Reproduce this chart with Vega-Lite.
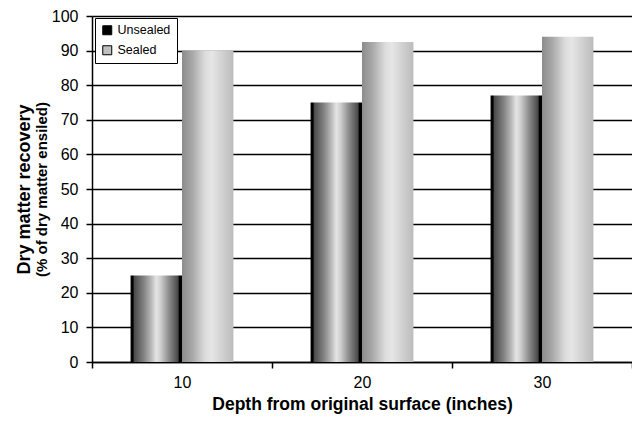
{
  "$schema": "https://vega.github.io/schema/vega-lite/v6.json",
  "width": 540,
  "height": 346,
  "autosize": {"type": "none"},
  "padding": {"left": 92, "top": 16, "right": 0, "bottom": 62},
  "background": "white",
  "config": {
    "view": {"stroke": null},
    "font": "Liberation Sans",
    "axis": {"labelFont": "Liberation Sans", "titleFont": "Liberation Sans", "labelColor": "black", "titleColor": "black", "domainColor": "black", "tickColor": "black"}
  },
  "data": {
    "values": [
      {"depth": "10", "series": "Unsealed", "recovery": 25},
      {"depth": "10", "series": "Sealed", "recovery": 90},
      {"depth": "20", "series": "Unsealed", "recovery": 75},
      {"depth": "20", "series": "Sealed", "recovery": 92.5},
      {"depth": "30", "series": "Unsealed", "recovery": 77},
      {"depth": "30", "series": "Sealed", "recovery": 94}
    ]
  },
  "encoding": {
    "x": {
      "field": "depth", "type": "ordinal",
      "scale": {"paddingInner": 0, "paddingOuter": 0},
      "axis": {
        "title": "Depth from original surface (inches)",
        "labelAngle": 0, "labelFontSize": 16, "labelPadding": 6,
        "tickBand": "extent", "tickSize": 6, "tickWidth": 1.5,
        "domainWidth": 1.5,
        "titleFontSize": 17.5, "titleFontWeight": "bold", "titlePadding": 5
      }
    },
    "xOffset": {
      "field": "series", "type": "nominal",
      "sort": ["Unsealed", "Sealed"],
      "scale": {"paddingInner": 0, "paddingOuter": 0.75}
    },
    "y": {
      "field": "recovery", "type": "quantitative",
      "scale": {"domain": [0, 100], "nice": false}
    }
  },
  "layer": [
    {
      "mark": {"type": "bar", "opacity": 0},
      "encoding": {
        "color": {
          "field": "series", "type": "nominal",
          "sort": ["Unsealed", "Sealed"],
          "scale": {"domain": ["Unsealed", "Sealed"], "range": ["black", "#c0c0c0"]},
          "legend": {
            "title": null, "orient": "none", "legendX": 3, "legendY": 2,
            "symbolType": "square", "symbolSize": 81, "symbolOpacity": 1,
            "symbolStrokeColor": "black", "symbolStrokeWidth": 1,
            "labelFontSize": 12.5, "labelFont": "Liberation Sans", "labelColor": "black",
            "rowPadding": 6, "padding": 6, "strokeColor": "black", "fillColor": "white",
            "symbolOffset": 0, "labelOffset": 4
          }
        },
        "y": {
          "field": "recovery", "type": "quantitative",
          "scale": {"domain": [0, 100], "nice": false},
          "axis": {
            "orient": "left",
            "title": "(% of dry matter ensiled)",
            "values": [0, 10, 20, 30, 40, 50, 60, 70, 80, 90, 100],
            "grid": true, "gridColor": "black", "gridWidth": 1.5,
            "labelFontSize": 16, "labelPadding": 8, "tickSize": 6, "tickWidth": 1.5,
            "domainWidth": 1.5,
            "titleFontSize": 15, "titleFontWeight": "bold", "titlePadding": 2
          }
        }
      }
    },
    {
      "mark": {"type": "bar"},
      "encoding": {
        "fill": {
          "condition": {
            "test": "datum.series === 'Unsealed'",
            "value": {
              "gradient": "linear", "x1": 0, "x2": 1, "y1": 0, "y2": 0,
              "stops": [
                {"offset": 0, "color": "#000000"},
                {"offset": 0.05, "color": "#000000"},
                {"offset": 0.07, "color": "#4a4a4a"},
                {"offset": 0.25, "color": "#808080"},
                {"offset": 0.4, "color": "#b8b8b8"},
                {"offset": 0.5, "color": "#e4e4e4"},
                {"offset": 0.58, "color": "#d0d0d0"},
                {"offset": 0.75, "color": "#8a8a8a"},
                {"offset": 0.92, "color": "#4a4a4a"},
                {"offset": 0.95, "color": "#000000"},
                {"offset": 1, "color": "#000000"}
              ]
            }
          },
          "value": {
            "gradient": "linear", "x1": 0, "x2": 1, "y1": 0, "y2": 0,
            "stops": [
              {"offset": 0, "color": "#8c8c8c"},
              {"offset": 0.2, "color": "#a8a8a8"},
              {"offset": 0.45, "color": "#dcdcdc"},
              {"offset": 0.58, "color": "#e6e6e6"},
              {"offset": 0.8, "color": "#cfcfcf"},
              {"offset": 1, "color": "#bcbcbc"}
            ]
          }
        },
        "y": {
          "field": "recovery", "type": "quantitative",
          "scale": {"domain": [0, 100], "nice": false},
          "axis": {
            "orient": "left",
            "title": "Dry matter recovery",
            "labels": false, "ticks": false, "domain": false, "grid": false,
            "titleFontSize": 18, "titleFontWeight": "bold", "titlePadding": 59
          }
        }
      }
    }
  ],
  "resolve": {"axis": {"y": "independent"}}
}
